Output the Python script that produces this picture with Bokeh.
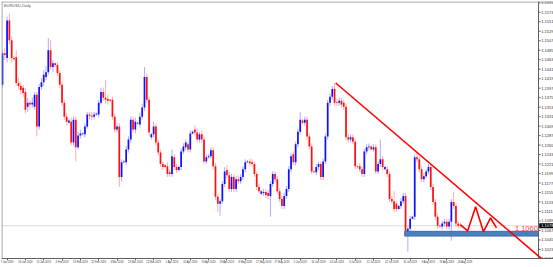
from bokeh.plotting import figure
from bokeh.models import Range1d, FixedTicker, Span, ColumnDataSource
from bokeh.core.properties import value
from bokeh.embed import file_html
from bokeh.resources import INLINE

# ---- EURUSD Daily candles (bar 0 = 7 Jan 2019, broker with Sunday bars) ----
opens = [1.1405, 1.1478, 1.1467, 1.1554, 1.1508, 1.1467, 1.1469, 1.1409, 1.1402, 1.1398,
         1.1388, 1.1354, 1.1363, 1.1359, 1.1354, 1.1382, 1.1308, 1.1400, 1.1411, 1.1423,
         1.1434, 1.1485, 1.1446, 1.1455, 1.1451, 1.1432, 1.1405, 1.1363, 1.1331, 1.1317,
         1.1319, 1.1271, 1.1324, 1.1260, 1.1287, 1.1290, 1.1290, 1.1308, 1.1336, 1.1333,
         1.1331, 1.1336, 1.1336, 1.1363, 1.1388, 1.1375, 1.1372, 1.1370, 1.1370, 1.1331,
         1.1301, 1.1308, 1.1191, 1.1225, 1.1225, 1.1255, 1.1278, 1.1324, 1.1301, 1.1315,
         1.1313, 1.1331, 1.1352, 1.1423, 1.1370, 1.1283, 1.1290, 1.1308, 1.1271, 1.1248,
         1.1221, 1.1218, 1.1216, 1.1202, 1.1198, 1.1237, 1.1214, 1.1207, 1.1214, 1.1250,
         1.1260, 1.1267, 1.1255, 1.1292, 1.1301, 1.1294, 1.1278, 1.1290, 1.1278, 1.1227,
         1.1237, 1.1239, 1.1253, 1.1216, 1.1145, 1.1129, 1.1135, 1.1175, 1.1207, 1.1195,
         1.1163, 1.1191, 1.1163, 1.1186, 1.1181, 1.1191, 1.1209, 1.1225, 1.1227, 1.1225,
         1.1221, 1.1198, 1.1168, 1.1152, 1.1154, 1.1156, 1.1154, 1.1147, 1.1175, 1.1198,
         1.1186, 1.1158, 1.1140, 1.1124, 1.1147, 1.1163, 1.1209, 1.1244, 1.1225, 1.1267,
         1.1296, 1.1322, 1.1317, 1.1324, 1.1285, 1.1262, 1.1204, 1.1202, 1.1214, 1.1221,
         1.1191, 1.1227, 1.1285, 1.1363, 1.1377, 1.1395, 1.1365, 1.1363, 1.1368, 1.1363,
         1.1354, 1.1283, 1.1278, 1.1283, 1.1273, 1.1216, 1.1216, 1.1209, 1.1198, 1.1250,
         1.1260, 1.1262, 1.1255, 1.1260, 1.1204, 1.1221, 1.1232, 1.1209, 1.1209, 1.1198,
         1.1140, 1.1135, 1.1129, 1.1117, 1.1124, 1.1135, 1.1147, 1.1064, 1.1071, 1.1094,
         1.1099, 1.1237, 1.1232, 1.1209, 1.1186, 1.1193, 1.1204, 1.1214, 1.1168, 1.1133,
         1.1099, 1.1078, 1.1076, 1.1083, 1.1087, 1.1076, 1.1087, 1.1133, 1.1124, 1.1083,
         1.1080]
closes = [1.1478, 1.1474, 1.1554, 1.1508, 1.1467, 1.1464, 1.1409, 1.1402, 1.1393, 1.1386,
          1.1347, 1.1363, 1.1359, 1.1363, 1.1382, 1.1308, 1.1400, 1.1411, 1.1428, 1.1434,
          1.1485, 1.1446, 1.1455, 1.1451, 1.1432, 1.1405, 1.1363, 1.1331, 1.1319, 1.1322,
          1.1271, 1.1324, 1.1260, 1.1287, 1.1292, 1.1292, 1.1308, 1.1336, 1.1333, 1.1331,
          1.1336, 1.1338, 1.1363, 1.1388, 1.1375, 1.1370, 1.1368, 1.1368, 1.1331, 1.1301,
          1.1308, 1.1191, 1.1225, 1.1227, 1.1255, 1.1278, 1.1324, 1.1301, 1.1319, 1.1317,
          1.1331, 1.1352, 1.1423, 1.1370, 1.1294, 1.1290, 1.1308, 1.1271, 1.1248, 1.1221,
          1.1214, 1.1214, 1.1198, 1.1198, 1.1239, 1.1214, 1.1207, 1.1214, 1.1250, 1.1262,
          1.1271, 1.1255, 1.1292, 1.1296, 1.1294, 1.1278, 1.1290, 1.1278, 1.1227, 1.1237,
          1.1239, 1.1253, 1.1216, 1.1145, 1.1129, 1.1135, 1.1175, 1.1204, 1.1195, 1.1163,
          1.1191, 1.1163, 1.1186, 1.1181, 1.1191, 1.1209, 1.1225, 1.1227, 1.1223, 1.1221,
          1.1198, 1.1168, 1.1158, 1.1158, 1.1156, 1.1149, 1.1147, 1.1175, 1.1198, 1.1186,
          1.1158, 1.1140, 1.1124, 1.1147, 1.1163, 1.1209, 1.1239, 1.1225, 1.1267, 1.1296,
          1.1324, 1.1317, 1.1324, 1.1285, 1.1262, 1.1204, 1.1202, 1.1214, 1.1221, 1.1191,
          1.1227, 1.1285, 1.1363, 1.1377, 1.1395, 1.1363, 1.1363, 1.1368, 1.1359, 1.1354,
          1.1283, 1.1278, 1.1283, 1.1273, 1.1216, 1.1214, 1.1209, 1.1198, 1.1250, 1.1260,
          1.1262, 1.1255, 1.1260, 1.1204, 1.1221, 1.1232, 1.1214, 1.1214, 1.1198, 1.1140,
          1.1135, 1.1117, 1.1117, 1.1124, 1.1135, 1.1147, 1.1064, 1.1071, 1.1094, 1.1099,
          1.1237, 1.1232, 1.1209, 1.1186, 1.1193, 1.1204, 1.1214, 1.1168, 1.1133, 1.1099,
          1.1078, 1.1076, 1.1083, 1.1087, 1.1076, 1.1087, 1.1133, 1.1124, 1.1083, 1.1078,
          1.1078]
highs = [1.1485, 1.1490, 1.1563, 1.1570, 1.1517, 1.1471, 1.1485, 1.1421, 1.1411, 1.1405,
         1.1398, 1.1375, 1.1370, 1.1375, 1.1388, 1.1388, 1.1407, 1.1421, 1.1439, 1.1448,
         1.1513, 1.1508, 1.1462, 1.1457, 1.1457, 1.1439, 1.1411, 1.1370, 1.1340, 1.1326,
         1.1329, 1.1331, 1.1331, 1.1296, 1.1301, 1.1294, 1.1315, 1.1342, 1.1342, 1.1342,
         1.1342, 1.1340, 1.1370, 1.1398, 1.1398, 1.1416, 1.1382, 1.1372, 1.1377, 1.1338,
         1.1317, 1.1315, 1.1232, 1.1230, 1.1262, 1.1285, 1.1331, 1.1331, 1.1329, 1.1319,
         1.1340, 1.1361, 1.1446, 1.1432, 1.1377, 1.1294, 1.1319, 1.1315, 1.1278, 1.1255,
         1.1227, 1.1221, 1.1225, 1.1209, 1.1255, 1.1244, 1.1221, 1.1218, 1.1257, 1.1269,
         1.1278, 1.1273, 1.1299, 1.1299, 1.1310, 1.1303, 1.1296, 1.1299, 1.1285, 1.1244,
         1.1244, 1.1260, 1.1260, 1.1223, 1.1152, 1.1140, 1.1181, 1.1214, 1.1218, 1.1202,
         1.1198, 1.1198, 1.1193, 1.1195, 1.1198, 1.1216, 1.1232, 1.1230, 1.1234, 1.1232,
         1.1227, 1.1204, 1.1175, 1.1161, 1.1163, 1.1163, 1.1161, 1.1181, 1.1204, 1.1204,
         1.1193, 1.1165, 1.1147, 1.1154, 1.1170, 1.1216, 1.1246, 1.1250, 1.1273, 1.1303,
         1.1342, 1.1326, 1.1331, 1.1331, 1.1292, 1.1269, 1.1207, 1.1221, 1.1227, 1.1227,
         1.1234, 1.1292, 1.1370, 1.1384, 1.1402, 1.1409, 1.1372, 1.1375, 1.1375, 1.1370,
         1.1361, 1.1290, 1.1290, 1.1290, 1.1280, 1.1218, 1.1223, 1.1216, 1.1257, 1.1267,
         1.1269, 1.1264, 1.1267, 1.1267, 1.1227, 1.1278, 1.1239, 1.1216, 1.1216, 1.1204,
         1.1147, 1.1158, 1.1135, 1.1126, 1.1142, 1.1154, 1.1154, 1.1076, 1.1101, 1.1101,
         1.1244, 1.1248, 1.1239, 1.1216, 1.1200, 1.1209, 1.1221, 1.1221, 1.1175, 1.1140,
         1.1106, 1.1080, 1.1089, 1.1094, 1.1094, 1.1094, 1.1140, 1.1156, 1.1131, 1.1089,
         1.1085]
lows = [1.1398, 1.1462, 1.1457, 1.1499, 1.1457, 1.1460, 1.1402, 1.1393, 1.1382, 1.1377,
        1.1338, 1.1342, 1.1347, 1.1352, 1.1347, 1.1285, 1.1301, 1.1393, 1.1402, 1.1416,
        1.1428, 1.1439, 1.1434, 1.1446, 1.1425, 1.1398, 1.1356, 1.1324, 1.1310, 1.1315,
        1.1264, 1.1264, 1.1227, 1.1255, 1.1280, 1.1287, 1.1283, 1.1303, 1.1324, 1.1322,
        1.1324, 1.1333, 1.1329, 1.1359, 1.1368, 1.1361, 1.1359, 1.1365, 1.1324, 1.1294,
        1.1294, 1.1168, 1.1181, 1.1223, 1.1218, 1.1248, 1.1271, 1.1294, 1.1292, 1.1313,
        1.1306, 1.1324, 1.1345, 1.1363, 1.1285, 1.1278, 1.1283, 1.1264, 1.1241, 1.1214,
        1.1207, 1.1211, 1.1191, 1.1191, 1.1191, 1.1207, 1.1200, 1.1204, 1.1207, 1.1244,
        1.1253, 1.1248, 1.1248, 1.1290, 1.1287, 1.1271, 1.1271, 1.1271, 1.1221, 1.1221,
        1.1234, 1.1232, 1.1209, 1.1138, 1.1110, 1.1101, 1.1129, 1.1168, 1.1188, 1.1156,
        1.1156, 1.1156, 1.1156, 1.1175, 1.1175, 1.1184, 1.1202, 1.1223, 1.1216, 1.1214,
        1.1191, 1.1161, 1.1152, 1.1149, 1.1147, 1.1142, 1.1140, 1.1099, 1.1168, 1.1179,
        1.1152, 1.1133, 1.1117, 1.1117, 1.1140, 1.1156, 1.1202, 1.1218, 1.1218, 1.1260,
        1.1290, 1.1313, 1.1310, 1.1278, 1.1255, 1.1198, 1.1200, 1.1195, 1.1207, 1.1184,
        1.1184, 1.1221, 1.1278, 1.1356, 1.1370, 1.1356, 1.1356, 1.1356, 1.1352, 1.1347,
        1.1276, 1.1271, 1.1271, 1.1267, 1.1209, 1.1211, 1.1202, 1.1191, 1.1191, 1.1244,
        1.1253, 1.1253, 1.1250, 1.1198, 1.1198, 1.1214, 1.1207, 1.1207, 1.1191, 1.1133,
        1.1129, 1.1110, 1.1110, 1.1115, 1.1117, 1.1129, 1.1057, 1.1018, 1.1064, 1.1092,
        1.1092, 1.1225, 1.1202, 1.1179, 1.1179, 1.1188, 1.1198, 1.1161, 1.1126, 1.1092,
        1.1071, 1.1073, 1.1069, 1.1076, 1.1069, 1.1069, 1.1043, 1.1117, 1.1076, 1.1071,
        1.1073]

# ---- axis labels ----
xtick_bars = [0, 8, 16, 24, 32, 40, 48, 56, 64, 72, 80, 88, 96, 104, 112, 120, 128,
              136, 144, 152, 160, 168, 176, 184, 192, 200]
xtick_labels = ["7 Jan 2019", "16 Jan 2019", "25 Jan 2019", "4 Feb 2019", "13 Feb 2019",
                "22 Feb 2019", "4 Mar 2019", "13 Mar 2019", "22 Mar 2019", "1 Apr 2019",
                "10 Apr 2019", "19 Apr 2019", "29 Apr 2019", "8 May 2019", "17 May 2019",
                "27 May 2019", "5 Jun 2019", "14 Jun 2019", "24 Jun 2019", "3 Jul 2019",
                "12 Jul 2019", "22 Jul 2019", "31 Jul 2019", "9 Aug 2019", "19 Aug 2019",
                "28 Aug 2019"]
ytick_values = [1.1595, 1.1573, 1.1551, 1.1529, 1.1507, 1.1485, 1.1463, 1.1441, 1.1419,
                1.1397, 1.1375, 1.1353, 1.1331, 1.1309, 1.1287, 1.1265, 1.1243, 1.1221,
                1.1199, 1.1177, 1.1155, 1.1133, 1.1111, 1.1089, 1.1067, 1.1045, 1.1023,
                1.1001]

# ---- drawn analysis ----
trend_bars = [145.5, 237.5]
trend_prices = [1.1409, 1.0992]
support_start_bar = 176
support_low = 1.1054
support_high = 1.1065
support_label = "1.1060"
proj_bars = [200, 203.1, 206.6, 210.0, 213.1, 215.7]
proj_prices = [1.1080, 1.1066, 1.1122, 1.1064, 1.1096, 1.1073]

# plot frame covers the price scale strip too (MT4 style); price axis drawn at AX
X0, X1 = -0.44, 240.6
Y0, Y1 = 1.1002, 1.1598
AX = 234.06
bars = list(range(len(opens)))
bull, bear = "#1010ff", "#ff1010"
src = ColumnDataSource(dict(
    bar=bars, high=highs, low=lows,
    top=[max(o, c) for o, c in zip(opens, closes)],
    bottom=[min(o, c) for o, c in zip(opens, closes)],
    color=[bull if c >= o else bear for o, c in zip(opens, closes)],
))

p = figure(width=553, height=267, output_backend="svg", toolbar_location=None,
           x_range=Range1d(X0, X1), y_range=Range1d(Y0, Y1),
           min_border_left=1, min_border_top=1, min_border_right=0, min_border_bottom=7,
           background_fill_color="white", border_fill_color="white")
p.grid.visible = False
p.outline_line_color = None
p.yaxis.visible = False

xa = p.xaxis[0]
xa.major_label_text_color = "#333333"
xa.major_label_text_font = "Liberation Sans"
xa.major_label_text_font_size = "2.6px"
xa.axis_line_color = "#606060"
xa.major_tick_line_color = "#606060"
xa.major_tick_out = 2
xa.major_tick_in = 0
xa.minor_tick_line_color = None
xa.major_label_standoff = 1
xa.ticker = FixedTicker(ticks=[b + 2 for b in xtick_bars])
xa.major_label_overrides = {b + 2: lab for b, lab in zip(xtick_bars, xtick_labels)}

# chart border (top, left)
p.add_layout(Span(location=Y1 - 0.0001, dimension="width", line_color="#8a8a8a", line_width=1))
p.add_layout(Span(location=X0 + 0.2, dimension="height", line_color="#8a8a8a", line_width=1))

# current price dotted line
p.line([X0, AX], [closes[-1], closes[-1]], line_color="#b8b8b8", line_dash="1 1", line_width=1)

# candles
p.segment(x0="bar", y0="high", x1="bar", y1="low", line_color="color",
          line_alpha=0.35, line_width=1, source=src)
p.vbar(x="bar", width=0.75, top="top", bottom="bottom", fill_color="color",
       line_color=None, source=src)

# support zone
p.quad(left=[support_start_bar - 0.4], right=[AX], bottom=[support_low], top=[support_high],
       fill_color="#4a80bd", line_color="#3c70aa", line_width=1)
p.text(x=[AX - 0.3], y=[support_high + 0.0001], text=[support_label], text_align="right",
       text_baseline="bottom", text_font_size="7.5px", text_color="#f04848",
       text_font=value("Liberation Sans"))

# price scale
n = len(ytick_values)
p.segment(x0=[AX], y0=[Y0], x1=[AX], y1=[Y1], line_color="#606060", line_width=1)
p.segment(x0=[AX] * n, y0=ytick_values, x1=[AX + 0.9] * n, y1=ytick_values,
          line_color="#606060", line_width=1)
p.text(x=[AX + 1.2] * n, y=ytick_values, text=["%.4f" % v for v in ytick_values],
       text_align="left", text_baseline="middle", text_font_size="4px",
       text_color="#333333", text_font=value("Liberation Sans"))

# current price tag
p.quad(left=[AX + 0.3], right=[X1], bottom=[closes[-1] - 0.0006], top=[closes[-1] + 0.0006],
       fill_color="black", line_color=None)
p.text(x=[AX + 1.2], y=[closes[-1]], text=["%.4f" % closes[-1]], text_align="left",
       text_baseline="middle", text_font_size="4px", text_color="white",
       text_font=value("Liberation Sans"))

# trend line and projected path
p.line(trend_bars, trend_prices, line_color="#ff0000", line_width=1.6)
p.line(proj_bars, proj_prices, line_color="#ff0000", line_width=1.6)

# symbol caption
p.text(x=[0.6], y=[1.1594], text=["EURUSD,Daily"], text_font_size="4px",
       text_color="#555555", text_baseline="top", text_font=value("Liberation Sans"))

open("out.html", "w").write(file_html(p, INLINE))
